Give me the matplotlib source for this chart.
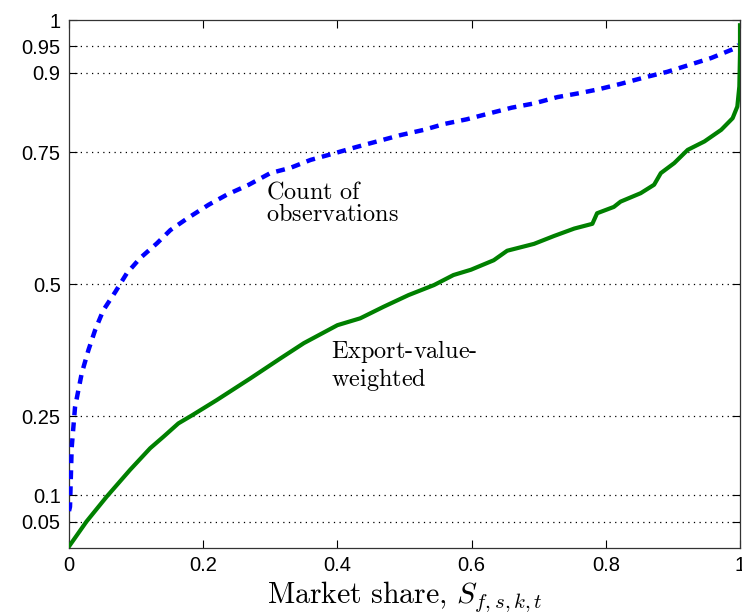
import matplotlib
matplotlib.use("Agg")
import matplotlib.pyplot as plt

plt.rcParams['font.family'] = ['Liberation Sans', 'DejaVu Sans']
plt.rcParams['mathtext.fontset'] = 'cm'

# count-of-observations curve (blue, dashed)
count_x = [0.0, 0.0015, 0.004, 0.009, 0.019, 0.029, 0.039, 0.051, 0.069, 0.086,
           0.106, 0.131, 0.151, 0.176, 0.208, 0.235, 0.268, 0.30, 0.33, 0.36,
           0.394, 0.427, 0.462, 0.494, 0.529, 0.559, 0.593, 0.626, 0.66, 0.693,
           0.728, 0.763, 0.79, 0.822, 0.857, 0.892, 0.922, 0.957, 0.992, 0.998]
count_y = [0.07, 0.078, 0.19, 0.267, 0.331, 0.375, 0.413, 0.45, 0.485, 0.52,
           0.549, 0.577, 0.602, 0.624, 0.65, 0.669, 0.688, 0.71, 0.72, 0.735,
           0.747, 0.759, 0.771, 0.782, 0.792, 0.803, 0.812, 0.823, 0.834, 0.842,
           0.854, 0.862, 0.869, 0.879, 0.891, 0.902, 0.914, 0.928, 0.946, 0.953]

# export-value-weighted curve (green, solid)
value_x = [0.0, 0.026, 0.056, 0.091, 0.121, 0.141, 0.163, 0.183, 0.22, 0.27,
           0.315, 0.35, 0.40, 0.434, 0.469, 0.506, 0.544, 0.573, 0.599, 0.633,
           0.653, 0.693, 0.723, 0.753, 0.78, 0.787, 0.812, 0.822, 0.852, 0.872,
           0.882, 0.902, 0.922, 0.947, 0.972, 0.989, 0.996, 0.999, 1.0, 1.0]
value_y = [0.003, 0.05, 0.097, 0.148, 0.189, 0.211, 0.236, 0.251, 0.28, 0.321,
           0.359, 0.388, 0.422, 0.435, 0.457, 0.479, 0.498, 0.517, 0.527, 0.545,
           0.563, 0.576, 0.591, 0.605, 0.614, 0.634, 0.646, 0.656, 0.672, 0.688,
           0.71, 0.729, 0.754, 0.77, 0.792, 0.814, 0.836, 0.874, 0.937, 0.99]

y_ticks = [0.05, 0.1, 0.25, 0.5, 0.75, 0.9, 0.95, 1]
y_labels = ['0.05', '0.1', '0.25', '0.5', '0.75', '0.9', '0.95', '1']
x_ticks = [0, 0.2, 0.4, 0.6, 0.8, 1]
x_labels = ['0', '0.2', '0.4', '0.6', '0.8', '1']

fig = plt.figure(figsize=(7.42, 6.15), dpi=100)
ax = fig.add_axes([69 / 742, 67 / 615, 671 / 742, 528 / 615])

# dotted reference lines
for yv in y_ticks[:-1]:
    ax.axhline(yv, color='black', lw=0.9, ls=(0, (1, 3.5)), zorder=1)

ax.plot(count_x, count_y, color='#0000ff', lw=3.2, dashes=(2.0, 1.6), zorder=3)
ax.plot(value_x, value_y, color='#008000', lw=3.0, zorder=3)

ax.set_xlim(0, 1)
ax.set_ylim(0, 1)
ax.set_xticks(x_ticks)
ax.set_xticklabels(x_labels)
ax.set_yticks(y_ticks)
ax.set_yticklabels(y_labels)
ax.tick_params(direction='in', length=6, width=0.8, labelsize=14.5,
               top=True, right=True, pad=6)
for s in ax.spines.values():
    s.set_linewidth(0.9)
    s.set_color('#333333')

ax.text(0.293, 0.695, r"$\mathrm{Count\ of}$" + "\n" + r"$\mathrm{observations}$",
        fontsize=17.5, va='top', ha='left', linespacing=1.05)
ax.text(0.39, 0.398, r"$\mathrm{Export\text{-}value\text{-}}$" + "\n" + r"$\mathrm{weighted}$",
        fontsize=17.5, va='top', ha='left', linespacing=1.05)

ax.set_xlabel(r"$\mathrm{Market\ share,}\,S_{f,s,k,t}$", fontsize=21.5, labelpad=3)

fig.savefig('out.png', dpi=100)
